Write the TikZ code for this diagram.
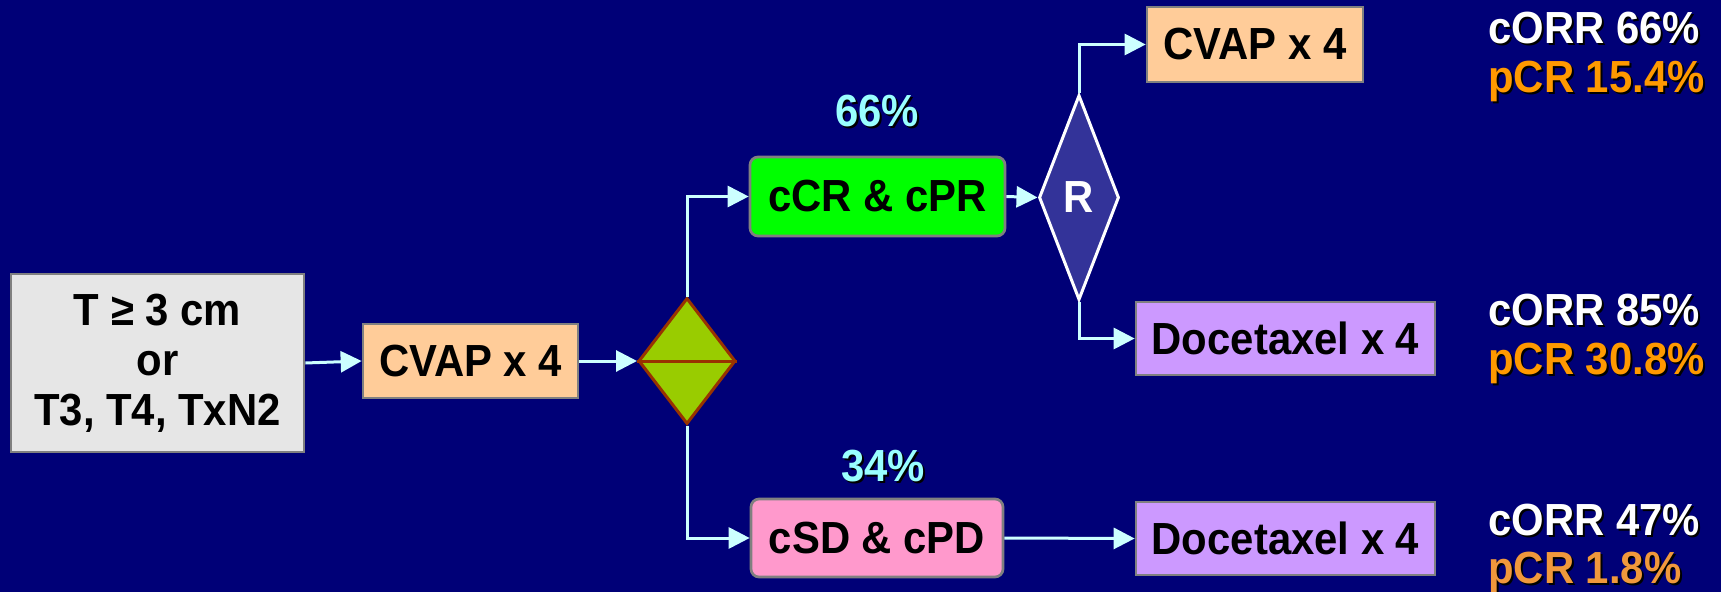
\documentclass[tikz,border=0pt]{standalone}
\usepackage{fontspec}
\setmainfont{Liberation Sans}[FakeStretch=0.93]
\usetikzlibrary{shapes.geometric,arrows.meta}

\definecolor{navybg}{HTML}{000077}
\definecolor{boxedge}{HTML}{808080}
\definecolor{flowline}{HTML}{CCFFFF}
\definecolor{peach}{HTML}{FFCC99}
\definecolor{lightgrey}{HTML}{E6E6E6}
\definecolor{brightgreen}{HTML}{00FF00}
\definecolor{pinkbox}{HTML}{FF99CC}
\definecolor{lavender}{HTML}{CC99FF}
\definecolor{olivegreen}{HTML}{99CC00}
\definecolor{rustedge}{HTML}{993300}
\definecolor{randfill}{HTML}{333399}
\definecolor{pctcyan}{HTML}{99FFFF}
\definecolor{pcrorange}{HTML}{FF9900}
\definecolor{pcrsoft}{HTML}{F0983C}

% text with a small black drop shadow behind it
\newcommand\castshadow[2]{\makebox[0pt][l]{\hspace*{1.5pt}\raisebox{-1.5pt}{\color{black}#2}}{\color{#1}#2}}

\begin{document}
\begin{tikzpicture}[
  x=0.75pt, y=-0.75pt,
  font=\fontsize{33.75}{37.5}\selectfont\bfseries,
  box/.style={draw=boxedge, line width=2pt, inner sep=0pt, text=black},
  roundbox/.style={box, rounded corners=6pt},
  flow/.style={draw=flowline, line width=2.25pt,
    -{Triangle[length=15.75pt,width=15.75pt]}},
  label/.style={inner sep=0pt, anchor=base},
  result/.style={inner sep=0pt, anchor=base west},
]
  % canvas
  \useasboundingbox (0,0) rectangle (1721,592);
  \fill[navybg] (0,0) rectangle (1721,592);

  % boxes
  \node[box, fill=lightgrey, minimum width=219.75pt, minimum height=133.5pt,
        align=center] (entry) at (157.5,363) {T ≥ 3 cm\\or\\T3, T4, TxN2};
  \node[box, fill=peach, minimum width=161.25pt, minimum height=55.5pt]
        (cvapa) at (470.5,361) {CVAP x 4};
  \node[diamond, draw=rustedge, line width=2.25pt, fill=olivegreen, inner sep=0pt,
        minimum width=72.75pt, minimum height=94.5pt] (split) at (687,361) {};
  \draw[rustedge, line width=2.25pt] (split.west) -- (split.east);

  \node[roundbox, fill=brightgreen, minimum width=191.25pt, minimum height=59.25pt]
        (resp) at (877.5,196.5) {cCR \& cPR};
  \node[roundbox, fill=pinkbox, minimum width=189pt, minimum height=58.5pt]
        (nonresp) at (877,538) {cSD \& cPD};

  \node[diamond, draw=white, line width=2.25pt, fill=randfill, text=white,
        inner sep=0pt, minimum width=60pt, minimum height=153.75pt]
        (rand) at (1079,197.5) {R};

  \node[box, fill=peach, minimum width=162pt, minimum height=56.25pt]
        (cvapb) at (1255,44.5) {CVAP x 4};
  \node[box, fill=lavender, minimum width=224.25pt, minimum height=54.75pt]
        (doca) at (1285.5,338.5) {Docetaxel x 4};
  \node[box, fill=lavender, minimum width=224.25pt, minimum height=54.75pt]
        (docb) at (1285.5,538.5) {Docetaxel x 4};

  % connectors
  \draw[flow] (entry.east) -- (cvapa.west);
  \draw[flow] (cvapa.east) -- (split.west);
  \draw[flow] (split.north) |- (resp.west);
  \draw[flow] (split.south) |- (nonresp.west);
  \draw[flow] (resp.east) -- (rand.west);
  \draw[flow] (rand.north) |- (cvapb.west);
  \draw[flow] (rand.south) |- (doca.west);
  \draw[flow] (nonresp.east) -- (docb.west);

  % branch shares
  \node[label] (sharea) at (877,127) {\castshadow{pctcyan}{66\%}};
  \node[label] (shareb) at (883,481) {\castshadow{pctcyan}{34\%}};

  % outcomes per arm
  \node[result] (orra) at (1488,44)  {\castshadow{white}{cORR 66\%}};
  \node[result] (pcra) at (1488,93)  {\castshadow{pcrorange}{pCR 15.4\%}};
  \node[result] (orrb) at (1488,325) {\castshadow{white}{cORR 85\%}};
  \node[result] (pcrb) at (1488,374) {\castshadow{pcrorange}{pCR 30.8\%}};
  \node[result] (orrc) at (1488,535) {\castshadow{white}{cORR 47\%}};
  \node[result] (pcrc) at (1488,583) {\castshadow{pcrsoft}{pCR 1.8\%}};
\end{tikzpicture}
\end{document}
